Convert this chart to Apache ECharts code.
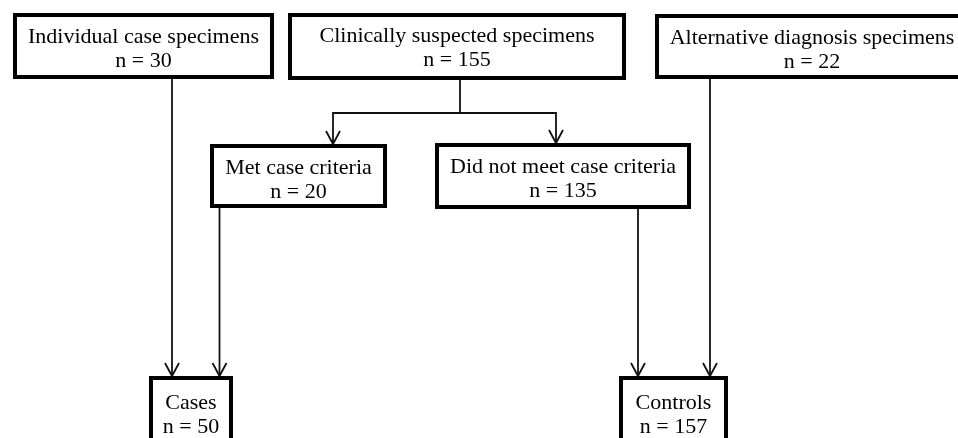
<!DOCTYPE html>
<html>
<head>
<meta charset="utf-8">
<script src="https://cdn.jsdelivr.net/npm/echarts@6/dist/echarts.min.js"></script>
<style>
html,body{margin:0;padding:0;background:#fff;}
#chart{width:958px;height:438px;}
</style>
</head>
<body>
<div id="chart"></div>
<script>
// ---- data ----
var boxIds = ['ind', 'clin', 'alt', 'met', 'dnm', 'cases', 'controls'];
var boxTitles = ['Individual case specimens', 'Clinically suspected specimens', 'Alternative diagnosis specimens',
  'Met case criteria', 'Did not meet case criteria', 'Cases', 'Controls'];
var boxCounts = [30, 155, 22, 20, 135, 50, 157];
var edgeFrom = ['ind', 'met', 'clin', 'clin', 'dnm', 'alt'];
var edgeTo = ['cases', 'cases', 'met', 'dnm', 'controls', 'controls'];

// ---- layout (pixel-space positions, separate from data) ----
var boxLayout = {
  ind: [13, 13, 274, 79],
  clin: [288, 13, 626, 80],
  alt: [655, 14, 969, 79],
  met: [210, 144, 387, 208],
  dnm: [435, 143, 691, 209],
  cases: [149, 376, 233, 470],
  controls: [619, 376, 728, 470]
};
var textOffset = { ind: 12, clin: 11, alt: 12, met: 12, dnm: 12, cases: 15, controls: 15 };
var edgeLayout = [
  [[172, 79], [172, 376]],
  [[219.5, 208], [219.5, 376]],
  [[460, 80], [460, 113], [333, 113], [333, 144]],
  [[460, 113], [556, 113], [556, 143]],
  [[638, 209], [638, 376]],
  [[710, 79], [710, 376]]
];

var FONT = '"Liberation Serif", "Times New Roman", serif';
var chart = echarts.init(document.getElementById('chart'));

var boxData = boxIds.map(function (id, i) {
  return { value: [i], name: boxTitles[i] + '\nn = ' + boxCounts[i], id: id };
});
var edgeData = edgeFrom.map(function (f, i) { return { value: [i], from: f, to: edgeTo[i] }; });

chart.setOption({
  animation: false,
  backgroundColor: '#fff',
  grid: { left: 0, right: 0, top: 0, bottom: 0 },
  xAxis: { type: 'value', min: 0, max: 958, show: false },
  yAxis: { type: 'value', min: 0, max: 438, inverse: true, show: false },
  series: [
    {
      type: 'custom',
      coordinateSystem: 'cartesian2d',
      data: edgeData,
      z: 1,
      renderItem: function (params, api) {
        var i = params.dataIndex;
        var pts = edgeLayout[i].map(function (p) { return api.coord(p); });
        var tip = pts[pts.length - 1];
        var aw = 7, ah = 13;
        return {
          type: 'group',
          children: [
            { type: 'polyline', shape: { points: pts }, style: { stroke: '#111', lineWidth: 1.8, fill: null } },
            { type: 'polyline', shape: { points: [[tip[0] - aw, tip[1] - ah], [tip[0], tip[1]], [tip[0] + aw, tip[1] - ah]] },
              style: { stroke: '#111', lineWidth: 1.8, fill: null } }
          ]
        };
      }
    },
    {
      type: 'custom',
      coordinateSystem: 'cartesian2d',
      data: boxData,
      z: 2,
      renderItem: function (params, api) {
        var i = params.dataIndex;
        var id = boxIds[i];
        var b = boxLayout[id];
        var p0 = api.coord([b[0], b[1]]);
        var p1 = api.coord([b[2], b[3]]);
        var cx = (p0[0] + p1[0]) / 2;
        return {
          type: 'group',
          children: [
            { type: 'rect', shape: { x: p0[0] + 2, y: p0[1] + 2, width: p1[0] - p0[0] - 4, height: p1[1] - p0[1] - 4 },
              style: { fill: '#fff', stroke: '#000', lineWidth: 4 } },
            { type: 'text', x: cx, y: p0[1] + textOffset[id],
              style: { text: boxTitles[i] + '\nn = ' + boxCounts[i], fill: '#000', font: '22px ' + FONT,
                align: 'center', verticalAlign: 'top', lineHeight: 24 } }
          ]
        };
      }
    }
  ]
});
</script>
</body>
</html>
